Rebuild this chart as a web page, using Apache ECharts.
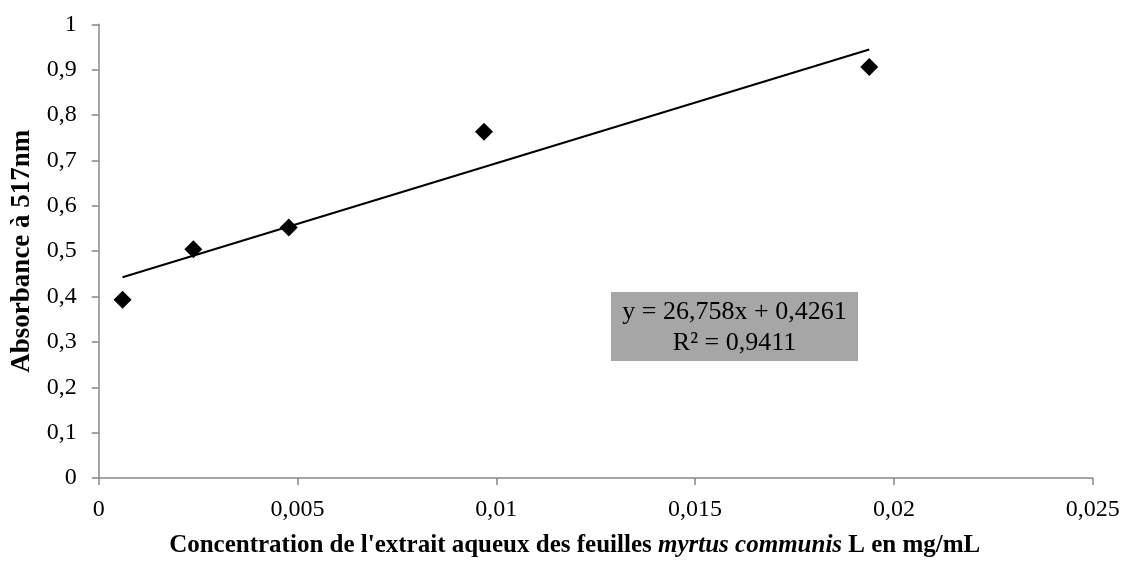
<!DOCTYPE html>
<html><head><meta charset="utf-8">
<script src="https://cdn.jsdelivr.net/npm/echarts@6/dist/echarts.min.js"></script>
<style>html,body{margin:0;padding:0;background:#fff}#c{width:1125px;height:563px}</style>
</head><body><div id="c"></div>
<script>
const concentrations = [0.0006, 0.00238, 0.00478, 0.00969, 0.01938];
const absorbances = [0.393, 0.504, 0.552, 0.763, 0.906];
const trendX = [0.0006, 0.01938];
const trendY = [0.4423, 0.9444];
const equationLines = ['y = 26,758x + 0,4261', 'R² = 0,9411'];
const xTitle = "Concentration de l'extrait aqueux des feuilles {i|myrtus communis} L en mg/mL";
const yTitle = 'Absorbance à 517nm';

const fmt = v => String(+v.toFixed(4)).replace('.', ',');
const font = '"Liberation Serif", "Times New Roman", serif';
const chart = echarts.init(document.getElementById('c'));
chart.setOption({
  animation: false,
  textStyle: {fontFamily: font},
  grid: {left: 98.7, right: 32.3, top: 24.3, bottom: 82},
  xAxis: {
    type: 'value', min: 0, max: 0.025, interval: 0.005,
    axisLine: {lineStyle: {color: '#888', width: 1.5}},
    axisTick: {show: true, length: 7, lineStyle: {color: '#888', width: 1.5}},
    splitLine: {show: false},
    axisLabel: {color: '#000', fontSize: 24, fontFamily: font, margin: 20, formatter: fmt},
    name: xTitle, nameLocation: 'middle', nameGap: 55,
    nameTextStyle: {color: '#000', fontSize: 25, fontWeight: 'bold', fontFamily: font,
      padding: [0, 42, 0, 0],
      rich: {i: {fontStyle: 'italic', fontWeight: 'bold', fontSize: 25, fontFamily: font, color: '#000'}}}
  },
  yAxis: {
    type: 'value', min: 0, max: 1, interval: 0.1,
    axisLine: {show: true, lineStyle: {color: '#888', width: 1.5}},
    axisTick: {show: true, length: 7, lineStyle: {color: '#888', width: 1.5}},
    splitLine: {show: false},
    axisLabel: {color: '#000', fontSize: 24, fontFamily: font, margin: 22, formatter: fmt},
    name: yTitle, nameLocation: 'middle', nameGap: 63,
    nameTextStyle: {color: '#000', fontSize: 27, fontWeight: 'bold', fontFamily: font}
  },
  series: [
    {type: 'line', data: trendX.map((x, i) => [x, trendY[i]]), symbol: 'none',
     lineStyle: {color: '#000', width: 2}, z: 2},
    {type: 'scatter', data: concentrations.map((x, i) => [x, absorbances[i]]),
     symbol: 'diamond', symbolSize: [18, 18], itemStyle: {color: '#000', opacity: 1}, z: 3}
  ],
  graphic: [{
    type: 'group', left: 611, top: 292,
    children: [
      {type: 'rect', shape: {x: 0, y: 0, width: 247, height: 69}, style: {fill: '#a6a6a6'}},
      {type: 'text', x: 123.5, y: 36, style: {text: equationLines.join('\n'), fill: '#000',
        font: '26px ' + font, align: 'center', verticalAlign: 'middle', lineHeight: 31}}
    ]
  }]
});
</script></body></html>
